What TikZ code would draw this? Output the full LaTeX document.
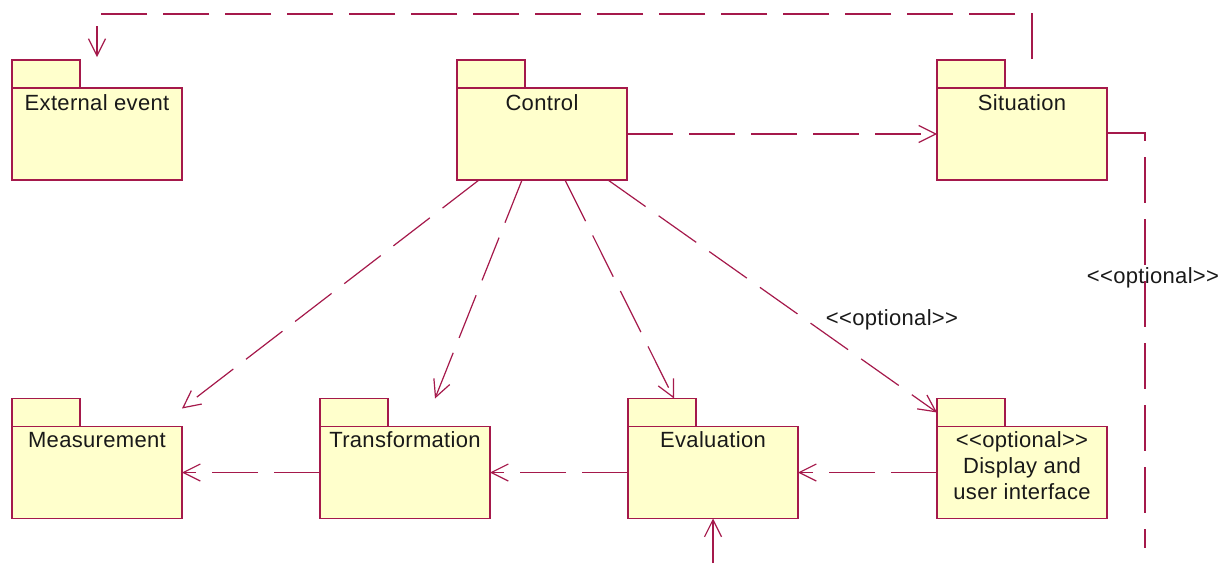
\documentclass[tikz,border=0pt]{standalone}
\usepackage{fontspec}
\setmainfont{Liberation Sans}[Ligatures=TeXOff,LetterSpace=1.5]
\usetikzlibrary{arrows.meta,calc}
\definecolor{umlline}{RGB}{165,25,75}
\definecolor{umlfill}{RGB}{255,255,204}
\begin{document}
\begin{tikzpicture}[x=1pt,y=-1pt,
  pkgbody/.style={draw=umlline,fill=umlfill,line width=1.2pt,
    minimum width=170pt,minimum height=92pt,inner sep=0pt,outer sep=0pt},
  pkgtab/.style={draw=umlline,fill=umlfill,line width=1.2pt,
    minimum width=68pt,minimum height=28pt,inner sep=0pt,outer sep=0pt,anchor=south west},
  lbl/.style={font=\fontsize{22}{26}\selectfont,inner sep=0pt,align=center,text=black!90},
  tip/.style={-{Straight Barb[length=17pt,width=17pt]}},
  dep/.style={draw=umlline,line width=1.2pt,dash pattern=on 46pt off 16pt,tip},
  solidarrow/.style={draw=umlline,line width=1.2pt,tip},
  link/.style={draw=umlline,line width=1.2pt,dash pattern=on 46pt off 16pt}]
\useasboundingbox (0,0) rectangle (1224,563);

% package bodies
\node[pkgbody] (ext)   at (97,134)    {};
\node[pkgbody] (ctrl)  at (542,134)   {};
\node[pkgbody] (sit)   at (1022,134)  {};
\node[pkgbody] (meas)  at (97,472.5)  {};
\node[pkgbody] (trans) at (405,472.5) {};
\node[pkgbody] (eval)  at (713,472.5) {};
\node[pkgbody] (disp)  at (1022,472.5){};

% package tabs
\node[pkgtab] (ext-tab)   at (ext.north west)   {};
\node[pkgtab] (ctrl-tab)  at (ctrl.north west)  {};
\node[pkgtab] (sit-tab)   at (sit.north west)   {};
\node[pkgtab] (meas-tab)  at (meas.north west)  {};
\node[pkgtab] (trans-tab) at (trans.north west) {};
\node[pkgtab] (eval-tab)  at (eval.north west)  {};
\node[pkgtab] (disp-tab)  at (disp.north west)  {};

% package names
\node[lbl] (ext-name)   at (97,103)   {External event};
\node[lbl] (ctrl-name)  at (542,103)  {Control};
\node[lbl] (sit-name)   at (1022,103) {Situation};
\node[lbl] (meas-name)  at (97,440)   {Measurement};
\node[lbl] (trans-name) at (405,440)  {Transformation};
\node[lbl] (eval-name)  at (713,440)  {Evaluation};
\node[lbl] (disp-name)  at (1022,466) {<<optional>>\\Display and\\user interface};

% loose ends of connectors
\coordinate (sit-up)   at (1032,59);
\coordinate (top-r)    at (1032,14);
\coordinate (top-l)    at (97,14);
\coordinate (ext-in)   at ($(ext.north)+(0,-31)$);
\coordinate (side-r)   at (1145,133);
\coordinate (side-end) at (1145,548);
\coordinate (eval-in)  at (713,563);

% dependencies
\draw[dep] (sit-up) -- (top-r) -- (top-l) -- (ext-in);
\draw[dep] (ctrl.east) -- (sit.west);
\draw[dep] ($(ctrl.south west)+(22,0)$)  -- ($(meas.north east)+(0,-18)$);
\draw[dep] ($(ctrl.south west)+(65,0)$)  -- ($(trans.north west)+(115,-28)$);
\draw[dep] ($(ctrl.south west)+(108,0)$) -- ($(eval.north west)+(46,-28)$);
\draw[dep] ($(ctrl.south west)+(151,0)$) -- ($(disp.north west)+(0,-14)$);
\draw[dep] (trans.west) -- (meas.east);
\draw[dep] (eval.west) -- (trans.east);
\draw[dep] (disp.west) -- (eval.east);
\draw[link] (sit.east |- side-r) -- (side-r) -- (side-end);
\draw[solidarrow] (eval-in) -- (eval.south);

% stereotypes
\node[lbl] (opt-a) at (892,320)  {<<optional>>};
\node[lbl] (opt-b) at (1153,278) {<<optional>>};
\end{tikzpicture}
\end{document}
